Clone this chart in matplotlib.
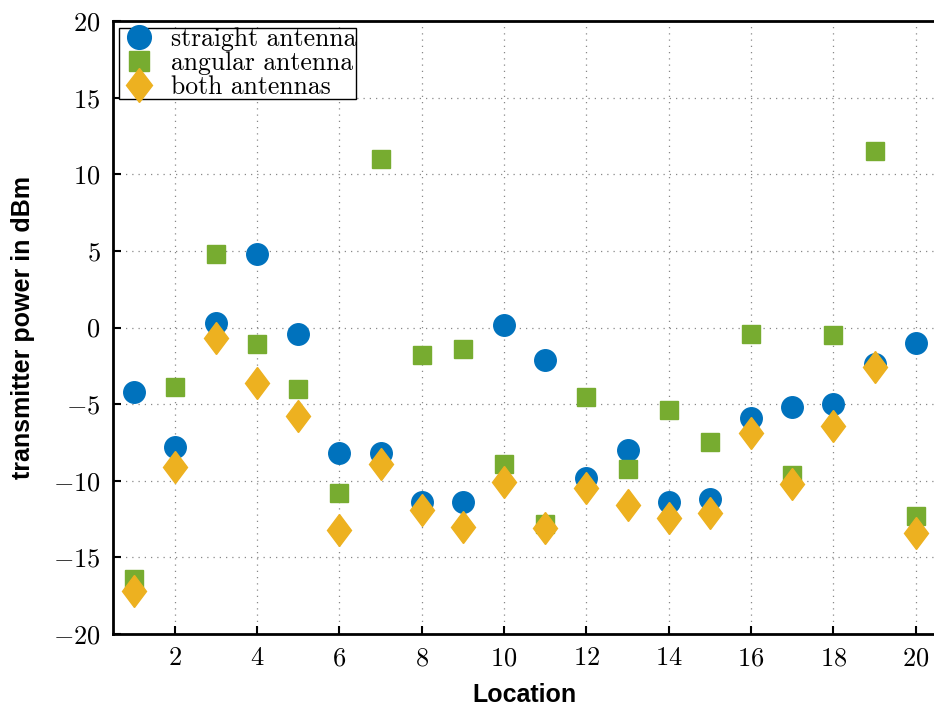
import numpy as np
import matplotlib
matplotlib.use("Agg")
import matplotlib.pyplot as plt
from matplotlib.markers import MarkerStyle
from matplotlib.transforms import Affine2D

plt.rcParams['font.family'] = 'serif'
plt.rcParams['font.serif'] = ['cmr10', 'DejaVu Serif']
plt.rcParams['mathtext.fontset'] = 'cm'
plt.rcParams['axes.formatter.use_mathtext'] = True

locations = np.arange(1, 21)
straight = [-4.2, -7.8, 0.3, 4.8, -0.4, -8.2, -8.2, -11.4, -11.4, 0.2,
            -2.1, -9.8, -8.0, -11.4, -11.2, -5.9, -5.2, -5.0, -2.4, -1.0]
angular = [-16.4, -3.9, 4.8, -1.1, -4.0, -10.8, 11.0, -1.8, -1.4, -8.9,
           -12.8, -4.5, -9.2, -5.4, -7.5, -0.4, -9.6, -0.5, 11.5, -12.3]
both = [-17.2, -9.1, -0.7, -3.6, -5.8, -13.2, -8.9, -11.9, -13.0, -10.1,
        -13.1, -10.5, -11.6, -12.4, -12.1, -6.9, -10.2, -6.4, -2.6, -13.4]

fig = plt.figure(figsize=(9.34, 7.06), dpi=100)
ax = fig.add_axes([0.121, 0.102, 0.8815, 0.868])

# tall diamond like the original
tall_diamond = MarkerStyle('D', transform=Affine2D().scale(0.75, 1.0))

ax.plot(locations, straight, 'o', color='#0072BD', markersize=15.5, label='straight antenna', zorder=3)
ax.plot(locations, angular, 's', color='#77AC30', markersize=12.5, label='angular antenna', zorder=3)
ax.plot(locations, both, linestyle='none', marker=tall_diamond, color='#EDB120', markersize=16,
        label='both antennas', zorder=3)

ax.set_xlim(0.5, 20.5)
ax.set_ylim(-20, 20)
ax.set_xticks(np.arange(2, 21, 2))
ax.set_yticks(np.arange(-20, 21, 5))
ax.grid(True, linestyle=(0, (1, 4)), color='#888888', linewidth=0.9)
ax.set_axisbelow(True)
ax.tick_params(direction='in', length=6, width=1.5, labelsize=19)
ax.tick_params(axis='x', pad=9)
ax.tick_params(axis='y', pad=9)
for s in ax.spines.values():
    s.set_linewidth(2)

ax.set_xlabel('Location', family='Liberation Sans', fontweight='bold', fontsize=18, labelpad=9)
ax.set_ylabel('transmitter power in dBm', family='Liberation Sans', fontweight='bold', fontsize=18, labelpad=13)

leg = ax.legend(loc='upper left', fontsize=18.5, frameon=True, fancybox=False, framealpha=1,
                edgecolor='black', borderpad=0.0, labelspacing=0.0, handletextpad=0.5,
                handlelength=1.5, borderaxespad=0.25, markerscale=1.1)
leg.get_frame().set_linewidth(1.0)

fig.savefig('out.png', dpi=100)
